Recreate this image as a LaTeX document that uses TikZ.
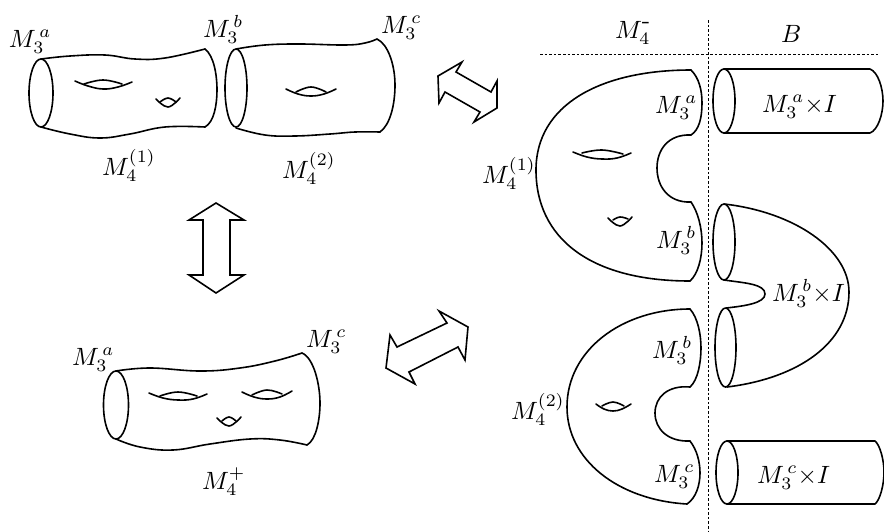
\documentclass[tikz,border=0pt]{standalone}
\begin{document}
\begin{tikzpicture}[x=1pt,y=-1pt,
  surf/.style={line width=1.6pt,line join=round,line cap=round},
  dblarrow/.style={line width=1.6pt,line join=miter},
  guide/.style={line width=0.8pt,dash pattern=on 2.6pt off 2pt},
  lab/.style={anchor=base west,inner sep=0pt,outer sep=0pt,scale=2.5}]
\useasboundingbox (0,0) rectangle (884,531);
\newcommand{\crv}[1]{\draw[surf] plot[smooth,tension=0.7] coordinates {#1};}
% top-left pieces
\draw[surf] (41,93) ellipse (12 and 34);
\crv{(41,59)(70,56)(105,55)(135,59)(165,58)(205,49)}
\draw[surf] (205,49) .. controls (214,56) and (217,75) .. (217,90) .. controls (217,105) and (214,122) .. (205,127);
\crv{(41,127)(70,134)(100,138)(130,134)(165,127)(205,127)}
\crv{(75,81)(88,86)(103,89)(118,87)(132,82)}
\crv{(84,84)(103,80)(122,84)}
\crv{(156,99)(168,107)(180,98)}
\crv{(160,102)(168,98)(176,102)}
\draw[surf] (236,88) ellipse (11 and 39);
\crv{(236,49)(265,45)(300,44)(345,45)(365,43)(377,39)}
\draw[surf] (377,39) .. controls (388,44) and (395,65) .. (395,85) .. controls (395,105) and (390,125) .. (380,132);
\crv{(236,128)(265,135)(295,136)(330,134)(355,132)(380,132)}
\crv{(286,89)(298,94)(311,96)(324,94)(336,89)}
\crv{(296,92)(311,87)(326,92)}
% bottom-left piece
\draw[surf] (116,405) ellipse (12.5 and 34);
\crv{(116,371)(150,368)(200,371)(240,368)(275,361)(302,353)}
\draw[surf] (302,353) .. controls (314,358) and (320,385) .. (320,403) .. controls (320,420) and (316,440) .. (307,445);
\crv{(116,439)(140,447)(173,450)(210,444)(250,439)(280,440)(307,445)}
\crv{(149,393)(163,398)(178,400)(193,399)(207,394)}
\crv{(160,396)(178,392)(197,396)}
\crv{(242,392)(254,397)(267,399)(280,397)(292,391)}
\crv{(252,395)(267,390)(282,394)}
\crv{(217,418)(229,426)(241,417)}
\crv{(222,421)(229,417)(236,421)}
% double arrows
\draw[dblarrow] (216,203)--(189,220)--(203,220)--(203,275)--(189,275)--(216,293)--(244,275)--(230,275)--(230,220)--(244,220)--cycle;
\draw[dblarrow] (439,311)--(468,327)--(465,360)--(458,347)--(409,372)--(415,384)--(386,368)--(390,335)--(397,347)--(447,323)--cycle;
\draw[dblarrow] (462,62)--(438,76)--(439,103)--(445,92)--(480,112)--(474,122)--(497,108)--(497,81)--(491,92)--(456,72)--cycle;
% guides
\draw[guide] (540,54)--(878,54);
\draw[guide] (708,20)--(708,531);
% M4^(1) on the right
\draw[surf] (691,70) .. controls (600,70) and (536,105) .. (536,170) .. controls (536,238) and (590,281) .. (690,281);
\draw[surf] (691,70) .. controls (699,78) and (702,90) .. (702,103) .. controls (702,118) and (699,130) .. (691,135);
\draw[surf] (691,135) .. controls (668,134) and (657,150) .. (657,168) .. controls (657,186) and (668,203) .. (691,202);
\draw[surf] (691,202) .. controls (698,212) and (702,228) .. (702,243) .. controls (702,258) and (698,274) .. (690,281);
\crv{(573,152)(587,157)(602,159)(617,158)(631,153)}
\crv{(582,153)(602,150)(623,154)}
\crv{(608,218)(620,226)(632,217)}
\crv{(613,220)(620,217)(628,219)}
% M4^(2) on the right
\draw[surf] (690,309) .. controls (622,309) and (567,350) .. (567,407) .. controls (567,460) and (618,500) .. (687,504);
\draw[surf] (690,309) .. controls (698,318) and (701,335) .. (701,348) .. controls (701,362) and (698,380) .. (690,387);
\draw[surf] (690,387) .. controls (668,385) and (655,397) .. (655,413) .. controls (655,429) and (668,442) .. (690,441);
\draw[surf] (690,441) .. controls (697,450) and (700,462) .. (700,473) .. controls (700,485) and (696,498) .. (687,504);
\crv{(596,404)(604,409)(613,411)(622,409)(631,404)}
\crv{(602,406)(613,402)(624,406)}
% B cylinders
\draw[surf] (724,101) ellipse (11 and 32);
\draw[surf] (724,69)--(870,69) .. controls (878,72) and (883,88) .. (883,101) .. controls (883,114) and (878,130) .. (870,133)--(724,133);
\draw[surf] (727,472.5) ellipse (11 and 31.5);
\draw[surf] (727,441)--(875,441) .. controls (880,445) and (884,460) .. (884,472) .. controls (884,485) and (880,500) .. (875,504)--(727,504);
% U-shaped piece
\draw[surf] (724,242) ellipse (11 and 38);
\draw[surf] (725.5,347.5) ellipse (10.5 and 39.5);
\draw[surf] (724,204) .. controls (795,212) and (849,250) .. (849,292) .. controls (849,342) and (800,378) .. (727,387);
\draw[surf] (724,280) .. controls (745,283) and (765,284) .. (765,294) .. controls (765,303) and (745,306) .. (726,308);
% labels
\node[lab] (a1) at (9,47) {$M_3^{\,a}$};
\node[lab] (b1) at (203,37) {$M_3^{\,b}$};
\node[lab] (c1) at (381,33) {$M_3^{\,c}$};
\node[lab] (m1) at (102,175) {$M_4^{(1)}$};
\node[lab] (m2) at (282,178) {$M_4^{(2)}$};
\node[lab] (mm) at (615,38) {$M_4^{\textnormal{-}}$};
\node[lab] (bb) at (781,42) {$B$};
\node[lab] (a2) at (655,113) {$M_3^{\,a}$};
\node[lab] (ai) at (762,112) {$M_3^{\,a}{\times}I$};
\node[lab] (m3) at (482,183) {$M_4^{(1)}$};
\node[lab] (b2) at (656,248) {$M_3^{\,b}$};
\node[lab] (bi) at (772,301) {$M_3^{\,b}{\times}I$};
\node[lab] (b3) at (652,358) {$M_3^{\,b}$};
\node[lab] (m4) at (511,419) {$M_4^{(2)}$};
\node[lab] (c2) at (654,482) {$M_3^{\,c}$};
\node[lab] (ci) at (757,483) {$M_3^{\,c}{\times}I$};
\node[lab] (a3) at (72,365) {$M_3^{\,a}$};
\node[lab] (c3) at (306,347) {$M_3^{\,c}$};
\node[lab] (mp) at (202,489) {$M_4^{+}$};
\end{tikzpicture}
\end{document}
